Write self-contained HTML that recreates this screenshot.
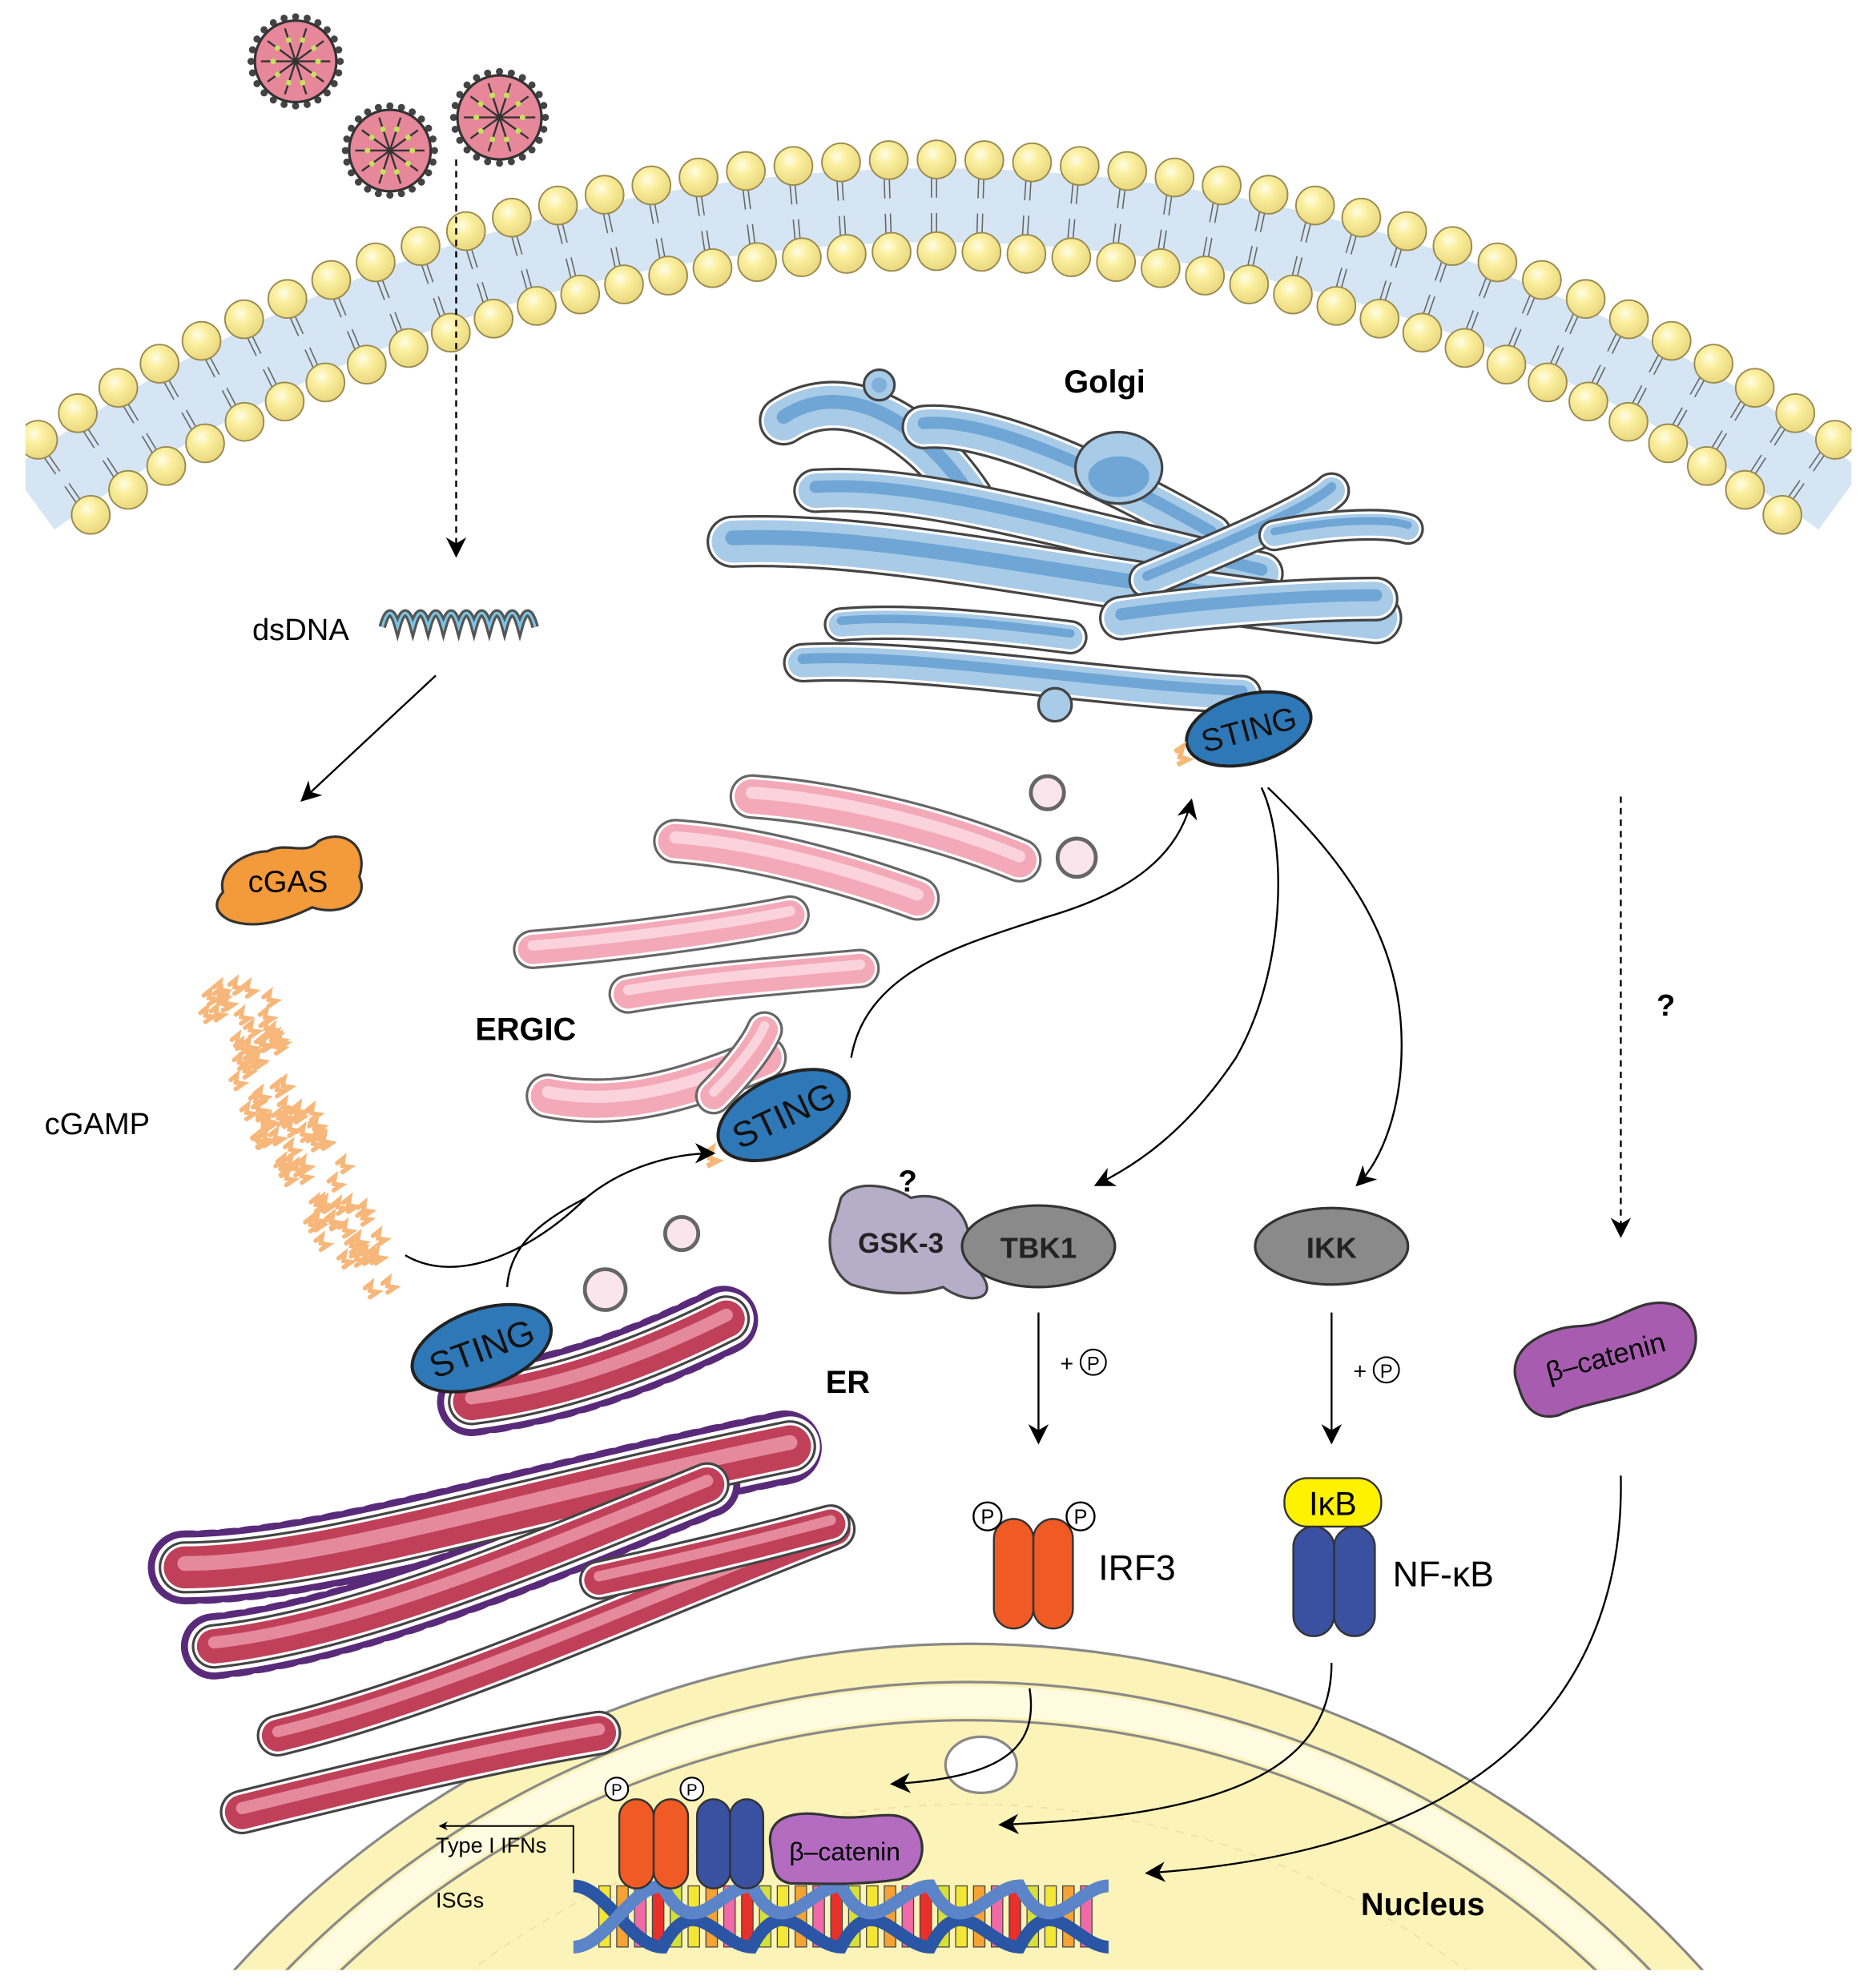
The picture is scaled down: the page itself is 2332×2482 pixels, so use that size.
<!DOCTYPE html>
<html><head><meta charset="utf-8">
<style>
html,body{margin:0;padding:0;background:#fff;width:2332px;height:2482px;overflow:hidden;}
svg{display:block;}
text{font-family:"Liberation Sans",sans-serif;}
</style></head>
<body>
<svg id="s" width="2332" height="2482" viewBox="0 0 1466 1560" xmlns="http://www.w3.org/2000/svg">
<defs>
<marker id="ah" viewBox="0 0 10 10" refX="9" refY="5" markerWidth="7" markerHeight="7" orient="auto-start-reverse" markerUnits="userSpaceOnUse"><path d="M0,0 L10,5 L0,10 L3,5 z" fill="#000"/></marker>
<marker id="ah2" viewBox="0 0 10 10" refX="9" refY="5" markerWidth="16" markerHeight="16" orient="auto" markerUnits="userSpaceOnUse"><path d="M0,0 L10,5 L0,10 L3,5 z" fill="#000"/></marker>
<radialGradient id="head" cx="0.4" cy="0.35" r="0.7"><stop offset="0" stop-color="#fffde8"/><stop offset="0.35" stop-color="#fbf0a0"/><stop offset="1" stop-color="#e8d57a"/></radialGradient>
<clipPath id="bot"><rect x="0" y="0" width="1466" height="1546"/></clipPath>
</defs>
<g id="mem"></g>

<g clip-path="url(#bot)">
<circle cx="760" cy="2066" r="776" fill="#fcf3b8" stroke="#888" stroke-width="2"/>
<circle cx="760" cy="2066" r="746" fill="none" stroke="#8a8a8a" stroke-width="2"/>
<circle cx="760" cy="2066" r="716" fill="none" stroke="#8a8a8a" stroke-width="2"/>
<circle cx="760" cy="2066" r="731" fill="none" stroke="#fffbe0" stroke-width="24"/>
<circle cx="760" cy="2066" r="650" fill="none" stroke="#f2dca0" stroke-width="1" stroke-dasharray="6 6"/>
<ellipse cx="770" cy="1385" rx="28" ry="22" fill="#fff" stroke="#888" stroke-width="2"/>
</g>

<g id="vir"></g>

<line x1="358" y1="125" x2="358" y2="436" stroke="#000" stroke-width="1.5" stroke-dasharray="5 4" marker-end="url(#ah2)"/>
<text x="198" y="502" font-size="24">dsDNA</text>
<path d="M300,492 q6,-22 12,0 q6,-22 12,0 q6,-22 12,0 q6,-22 12,0 q6,-22 12,0 q6,-22 12,0 q6,-22 12,0 q6,-22 12,0 q6,-22 12,0 q6,-22 12,0" fill="none" stroke="#555" stroke-width="6"/>
<path d="M300,492 q6,-22 12,0 q6,-22 12,0 q6,-22 12,0 q6,-22 12,0 q6,-22 12,0 q6,-22 12,0 q6,-22 12,0 q6,-22 12,0 q6,-22 12,0 q6,-22 12,0" fill="none" stroke="#7bc4e0" stroke-width="2"/>
<line x1="342" y1="530" x2="237" y2="628" stroke="#000" stroke-width="1.5" marker-end="url(#ah2)"/>

<path d="M175,700 C170,680 195,668 210,668 C225,660 240,672 250,660 C268,650 290,662 282,688 C290,705 270,720 245,712 C225,722 200,730 180,722 C168,716 168,708 175,700 Z" fill="#f39a3a" stroke="#333" stroke-width="2"/>
<text x="226" y="700" font-size="24" text-anchor="middle">cGAS</text>
<text x="35" y="890" font-size="24">cGAMP</text>
<g id="cg"></g>

<g id="golgi" fill="none" stroke-linecap="round"></g>
<circle cx="690" cy="302" r="12" fill="#a8cbe8" stroke="#444" stroke-width="2"/>
<circle cx="690" cy="302" r="6" fill="#7fb0db"/>
<ellipse cx="878" cy="367" rx="34" ry="28" fill="#a8cbe8" stroke="#444" stroke-width="2"/>
<ellipse cx="878" cy="374" rx="24" ry="16" fill="#6fa6d6"/>
<circle cx="828" cy="553" r="13" fill="#a8cbe8" stroke="#444" stroke-width="2"/>
<text x="835" y="308" font-size="25" font-weight="bold">Golgi</text>

<g id="ergic" fill="none" stroke-linecap="round"></g>
<circle cx="822" cy="622" r="13" fill="#fbe5ec" stroke="#666" stroke-width="3"/>
<circle cx="845" cy="673" r="15" fill="#fbe5ec" stroke="#666" stroke-width="3"/>
<circle cx="535" cy="968" r="13" fill="#fbe5ec" stroke="#666" stroke-width="3"/>
<circle cx="475" cy="1012" r="16" fill="#fbe5ec" stroke="#666" stroke-width="3"/>
<text x="373" y="816" font-size="25" font-weight="bold">ERGIC</text>

<g id="er" fill="none" stroke-linecap="round"></g>
<text x="648" y="1093" font-size="25" font-weight="bold">ER</text>

<g transform="translate(980,572) rotate(-15)"><ellipse rx="50" ry="27" fill="#2f78b7" stroke="#222" stroke-width="2.5"/><text y="9" font-size="25" text-anchor="middle" fill="#111">STING</text></g>
<g transform="translate(615,875) rotate(-25)"><ellipse rx="55" ry="30" fill="#2f78b7" stroke="#222" stroke-width="2.5"/><text y="10" font-size="28" text-anchor="middle" fill="#111">STING</text></g>
<g transform="translate(378,1058) rotate(-20)"><ellipse rx="57" ry="30" fill="#2f78b7" stroke="#222" stroke-width="2.5"/><text y="10" font-size="28" text-anchor="middle" fill="#111">STING</text></g>
<path d="M922,590 l6,-4 l-2,8 l6,2 l-8,4" fill="none" stroke="#f5b878" stroke-width="4"/>
<path d="M553,905 l6,-4 l-2,8 l6,2 l-8,4" fill="none" stroke="#f5b878" stroke-width="4"/>

<g fill="none" stroke="#000" stroke-width="1.5">
<path d="M318,985 C360,1010 420,980 460,940 C490,915 530,905 560,905" marker-end="url(#ah2)"/>
<path d="M398,1010 C400,980 420,960 460,940"/>
<path d="M668,830 C680,760 760,740 820,720 C890,700 925,670 935,628" marker-end="url(#ah2)"/>
<path d="M990,618 C1010,660 1010,760 970,830 C930,890 890,915 860,930" marker-end="url(#ah2)"/>
<path d="M995,618 C1060,680 1100,740 1100,820 C1100,870 1085,910 1065,930" marker-end="url(#ah2)"/>
<line x1="1272" y1="625" x2="1272" y2="970" stroke-dasharray="5 4" marker-end="url(#ah2)"/>
<line x1="815" y1="1030" x2="815" y2="1132" marker-end="url(#ah2)"/>
<line x1="1045" y1="1030" x2="1045" y2="1132" marker-end="url(#ah2)"/>
<path d="M808,1325 C815,1370 790,1395 700,1400" marker-end="url(#ah2)"/>
<path d="M1045,1305 C1045,1390 960,1425 785,1432" marker-end="url(#ah2)"/>
<path d="M1272,1158 C1275,1300 1200,1450 900,1470" marker-end="url(#ah2)"/>
</g>
<text x="1300" y="797" font-size="24" font-weight="bold">?</text>
<text x="705" y="935" font-size="24" font-weight="bold">?</text>

<path d="M660,940 C670,925 700,930 715,940 C735,935 752,945 758,960 L770,1000 C785,1020 760,1025 740,1010 C715,1018 690,1015 668,1008 C650,998 648,970 655,958 Z" fill="#b4aec8" stroke="#444" stroke-width="2"/>
<text x="707" y="983" font-size="22" font-weight="bold" text-anchor="middle" fill="#222">GSK-3</text>
<ellipse cx="815" cy="978" rx="60" ry="32" fill="#8a8a8a" stroke="#333" stroke-width="2"/>
<text x="815" y="987" font-size="23" font-weight="bold" text-anchor="middle" fill="#222">TBK1</text>
<ellipse cx="1045" cy="978" rx="60" ry="30" fill="#8a8a8a" stroke="#333" stroke-width="2"/>
<text x="1045" y="987" font-size="23" font-weight="bold" text-anchor="middle" fill="#222">IKK</text>
<text x="832" y="1076" font-size="18">+</text><circle cx="858" cy="1069" r="10" fill="#fff" stroke="#000" stroke-width="1.3"/><text x="858" y="1075" font-size="15" text-anchor="middle">P</text>
<text x="1062" y="1082" font-size="18">+</text><circle cx="1088" cy="1075" r="10" fill="#fff" stroke="#000" stroke-width="1.3"/><text x="1088" y="1081" font-size="15" text-anchor="middle">P</text>

<rect x="780" y="1192" width="31" height="86" rx="15.5" fill="#f05a24" stroke="#333" stroke-width="1.5"/>
<rect x="811" y="1192" width="31" height="86" rx="15.5" fill="#f05a24" stroke="#333" stroke-width="1.5"/>
<circle cx="775" cy="1190" r="11" fill="#fff" stroke="#000" stroke-width="1.5"/><text x="775" y="1196" font-size="16" text-anchor="middle">P</text>
<circle cx="848" cy="1190" r="11" fill="#fff" stroke="#000" stroke-width="1.5"/><text x="848" y="1196" font-size="16" text-anchor="middle">P</text>
<text x="862" y="1240" font-size="28">IRF3</text>
<rect x="1008" y="1160" width="76" height="38" rx="18" fill="#fff200" stroke="#333" stroke-width="1.5"/>
<text x="1046" y="1189" font-size="26" text-anchor="middle">IκB</text>
<rect x="1015" y="1198" width="32" height="86" rx="16" fill="#3a50a0" stroke="#333" stroke-width="1.5"/>
<rect x="1047" y="1198" width="32" height="86" rx="16" fill="#3a50a0" stroke="#333" stroke-width="1.5"/>
<text x="1093" y="1245" font-size="28">NF-κB</text>
<g transform="translate(1258,1065) rotate(-15)"><path d="M-70,5 C-75,-25 -40,-35 -10,-28 C20,-22 40,-40 65,-25 C85,-10 75,25 45,30 C10,38 -20,30 -45,35 C-65,35 -70,20 -70,5 Z" fill="#a85cb0" stroke="#333" stroke-width="2"/>
<text x="2" y="8" font-size="22" text-anchor="middle">β–catenin</text></g>

<g id="dna"></g>
<rect x="486" y="1412" width="27" height="70" rx="13.5" fill="#f05a24" stroke="#333" stroke-width="1.5"/>
<rect x="513" y="1412" width="27" height="70" rx="13.5" fill="#f05a24" stroke="#333" stroke-width="1.5"/>
<circle cx="484" cy="1404" r="9" fill="#fff" stroke="#000" stroke-width="1.3"/><text x="484" y="1409" font-size="13" text-anchor="middle">P</text>
<circle cx="543" cy="1404" r="9" fill="#fff" stroke="#000" stroke-width="1.3"/><text x="543" y="1409" font-size="13" text-anchor="middle">P</text>
<rect x="547" y="1412" width="26" height="70" rx="13" fill="#3a50a0" stroke="#333" stroke-width="1.5"/>
<rect x="573" y="1412" width="26" height="70" rx="13" fill="#3a50a0" stroke="#333" stroke-width="1.5"/>
<path d="M605,1450 C600,1425 625,1420 650,1425 C680,1430 700,1418 715,1430 C730,1445 725,1470 705,1475 C670,1480 640,1478 620,1478 C605,1475 607,1462 605,1450 Z" fill="#b36cc0" stroke="#333" stroke-width="2"/>
<text x="663" y="1460" font-size="20" text-anchor="middle">β–catenin</text>
<path d="M450,1470 L450,1433 L345,1433" fill="none" stroke="#000" stroke-width="1.2" marker-end="url(#ah)"/>
<text x="342" y="1454" font-size="17">Type I IFNs</text>
<text x="342" y="1497" font-size="17">ISGs</text>
<text x="1068" y="1503" font-size="25" font-weight="bold">Nucleus</text>
</svg>
<script>
var NS="http://www.w3.org/2000/svg";
function el(p,n,a){var e=document.createElementNS(NS,n);for(var k in a)e.setAttribute(k,a[k]);p.appendChild(e);return e;}
var m=document.getElementById('mem'),cx=735,cy=1365;
var Ro=1240,Ri=1168;
var mid=(Ro+Ri)/2;
el(m,'path',{d:'M'+(cx-mid*Math.sin(0.63))+','+(cy-mid*Math.cos(0.63))+' A'+mid+','+mid+' 0 0 1 '+(cx+mid*Math.sin(0.63))+','+(cy-mid*Math.cos(0.63)),fill:'none',stroke:'#d5e5f3','stroke-width':58});
function row(R,step){var n=Math.floor(0.63*R/step);var ang=step/R;for(var i=-n;i<=n;i++){var t=i*ang;var x=cx+R*Math.sin(t),y=cy-R*Math.cos(t);
if(x<15||x>1455)continue;
var dx=Math.sin(t),dy=-Math.cos(t);var s=(R>mid)?-1:1;
el(m,'line',{x1:x+dx*s*12,y1:y+dy*s*12,x2:x+dx*s*30,y2:y+dy*s*30,stroke:'#666','stroke-width':1});
el(m,'line',{x1:x+dx*s*12+4*dy,y1:y+dy*s*12-4*dx,x2:x+dx*s*30+4*dy,y2:y+dy*s*30-4*dx,stroke:'#666','stroke-width':1});
el(m,'circle',{cx:x,cy:y,r:15,fill:'url(#head)',stroke:'#9a8a50','stroke-width':1.2});}}
row(Ro,37.5);row(Ri,35.3);
el(m,'rect',{x:0,y:0,width:20,height:600,fill:'#fff'});
el(m,'rect',{x:1453,y:0,width:13,height:600,fill:'#fff'});
var v=document.getElementById('vir');
[[232,48,32],[306,118,32],[392,92,33]].forEach(function(c){
for(var i=0;i<24;i++){var a=i/24*2*Math.PI;el(v,'circle',{cx:c[0]+(c[2]+3)*Math.cos(a),cy:c[1]+(c[2]+3)*Math.sin(a),r:2.8,fill:'#444'});}
el(v,'circle',{cx:c[0],cy:c[1],r:c[2],fill:'#e7879a',stroke:'#333','stroke-width':2});
for(var i=0;i<10;i++){var a=i/10*2*Math.PI;el(v,'line',{x1:c[0],y1:c[1],x2:c[0]+c[2]*0.85*Math.cos(a),y2:c[1]+c[2]*0.85*Math.sin(a),stroke:'#333','stroke-width':1.5});
el(v,'circle',{cx:c[0]+c[2]*0.55*Math.cos(a),cy:c[1]+c[2]*0.55*Math.sin(a),r:2.2,fill:'#c8e060'});}
});
var g=document.getElementById('cg'),seed=7;function rnd(){seed=(seed*9301+49297)%233280;return seed/233280;}
for(var i=0;i<95;i++){var t=rnd();var x=175+t*105+(rnd()-0.5)*55;var y=775+t*225+(rnd()-0.5)*40;
el(g,'path',{d:'M'+x+','+y+' l5,-4 l-1,6 l6,1 l-6,4',fill:'none',stroke:'#f7b77a','stroke-width':3.5,'stroke-linecap':'round'});}
function tubes(id,list,outline,fill,hi,w){var p=document.getElementById(id);
list.forEach(function(d){var ww=d[1]||w;el(p,'path',{d:d[0],stroke:outline,'stroke-width':ww+5});el(p,'path',{d:d[0],stroke:'#fff','stroke-width':ww+1});el(p,'path',{d:d[0],stroke:fill,'stroke-width':ww-3});el(p,'path',{d:d[0],stroke:hi,'stroke-width':(ww-3)*0.35,transform:'translate(0,-3)'});});}
tubes('golgi',[
['M615,330 C660,300 720,330 760,390',34],
['M725,335 C780,330 880,380 950,420',30],
['M640,385 C720,380 820,410 990,450',30],
['M575,425 C700,420 850,460 1080,485',36],
['M900,455 C960,430 1030,400 1045,385',24],
['M1000,420 C1050,410 1090,410 1105,415',20],
['M660,490 C720,485 800,495 840,500',22],
['M880,485 C950,475 1030,470 1080,470',30],
['M630,520 C720,515 860,540 975,545',26]
],'#444','#a8cbe8','#6fa6d6',30);
tubes('ergic',[
['M590,625 C660,630 740,650 800,675',30],
['M530,660 C600,665 680,690 720,705',30],
['M418,745 C480,740 560,730 620,718',26],
['M493,780 C550,770 620,765 675,760',26],
['M430,860 C480,870 530,860 600,830',30],
['M560,860 C580,840 595,820 600,808',24]
],'#666','#f4a9b8','#fbd3dc',30);
var er=[
['M370,1100 C450,1090 520,1060 570,1035',32],
['M145,1230 C250,1230 400,1180 620,1135',36],
['M168,1292 C280,1280 420,1220 555,1165',30],
['M218,1362 C350,1330 500,1260 655,1200',28],
['M470,1240 C540,1225 600,1210 652,1196',26],
['M190,1422 C280,1400 380,1375 470,1360',30]];
var erg=document.getElementById('er');
er.slice(0,3).forEach(function(d){el(erg,'path',{d:d[0],stroke:'#5a2a7a','stroke-width':d[1]+22,'stroke-dasharray':'5 12'});el(erg,'path',{d:d[0],stroke:'#fff','stroke-width':d[1]+11});});
tubes('er',er,'#444','#c0405a','#e58a9c',30);
var dn=document.getElementById('dna');
var cols=['#f4e634','#f06aa8','#d6e03a','#f5a334','#e8302a'];
for(var x=470;x<850;x+=14){el(dn,'rect',{x:x,y:1480,width:9,height:48,fill:cols[Math.floor((x*7)%5)],stroke:'#444','stroke-width':0.8});}
var p1='M450,1480',p2='M450,1528';
for(var k=0;k<6;k++){var x0=450+k*70;p1+=' C'+(x0+25)+',1480 '+(x0+45)+',1528 '+(x0+70)+',1528';p2+=' C'+(x0+25)+',1528 '+(x0+45)+',1480 '+(x0+70)+',1480';}
el(dn,'path',{d:p1,fill:'none',stroke:'#2b55a5','stroke-width':10});
el(dn,'path',{d:p2,fill:'none',stroke:'#5b85c8','stroke-width':10});
</script>
</body></html>
